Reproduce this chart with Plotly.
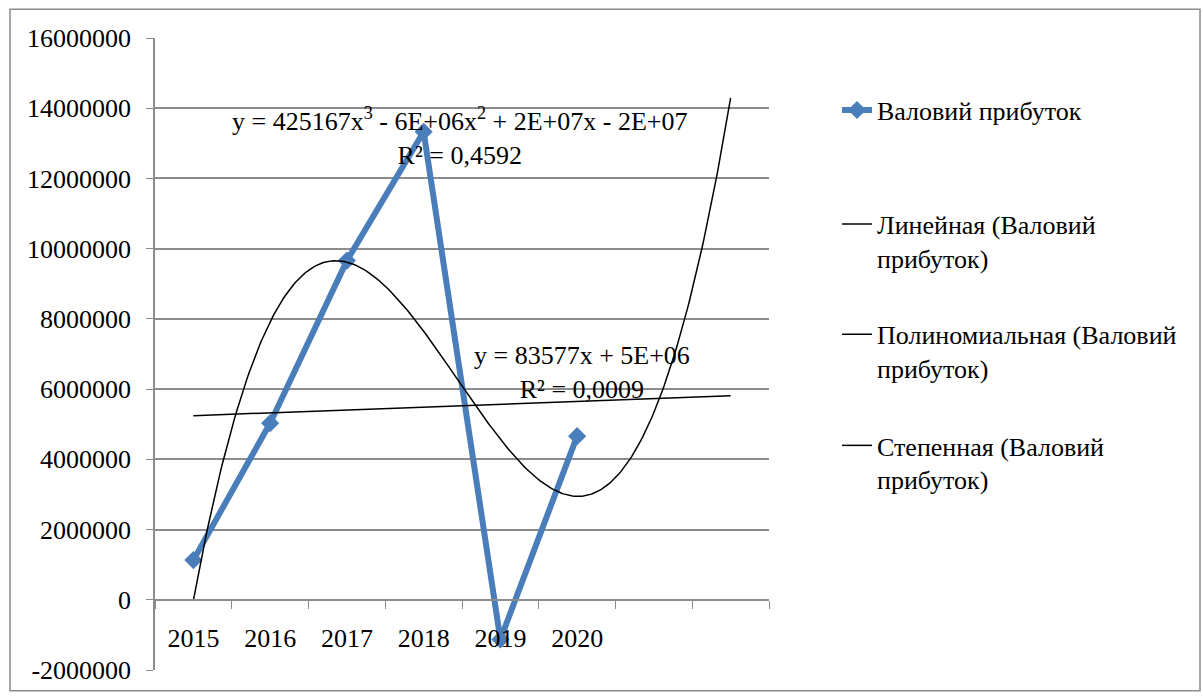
import numpy as np
import plotly.graph_objects as go

# Gross profit by year
YEARS = ["2015", "2016", "2017", "2018", "2019", "2020"]
GROSS_PROFIT = [1130000, 5030000, 9660000, 13330000, -1130000, 4660000]

SERIES_NAME = "Валовий прибуток"
TREND_NAMES = [
    "Линейная (Валовий<br>прибуток)",
    "Полиномиальная (Валовий<br>прибуток)",
    "Степенная (Валовий<br>прибуток)",
]
LINEAR_LABEL = ["y = 83577x + 5E+06", "R² = 0,0009"]
POLY_LABEL = ["y = 425167x<sup>3</sup> - 6E+06x<sup>2</sup> + 2E+07x - 2E+07", "R² = 0,4592"]

Y_TICKS = list(range(-2000000, 16000001, 2000000))
Y_LABELS = [str(v) for v in Y_TICKS]

FORECAST = 2  # trendlines extended two periods forward
FONT = "'Liberation Serif', 'Times New Roman', 'DejaVu Serif', serif"
FS = 26
BLUE = "#4A7EBB"
GRID = "#8C8C8C"

x = np.arange(1, len(YEARS) + 1)
y = np.array(GROSS_PROFIT, dtype=float)
n_slots = len(YEARS) + FORECAST

# Trendlines fitted to the series
lin = np.polyfit(x, y, 1)
cub = np.polyfit(x, y, 3)
xl = np.array([1, n_slots], dtype=float)
xc = np.linspace(1, n_slots, 300)

y_min, y_max = Y_TICKS[0], Y_TICKS[-1]
axis_pos = (0 - y_min) / (y_max - y_min)

fig = go.Figure()
fig.add_trace(go.Scatter(
    x=x, y=y, name=SERIES_NAME, mode="lines+markers",
    line=dict(color=BLUE, width=6),
    marker=dict(symbol="diamond", size=14, color=BLUE),
    legend="legend",
))
fig.add_trace(go.Scatter(
    x=xl, y=np.polyval(lin, xl), name=TREND_NAMES[0], mode="lines",
    line=dict(color="black", width=1.5), legend="legend2",
))
fig.add_trace(go.Scatter(
    x=xc, y=np.polyval(cub, xc), name=TREND_NAMES[1], mode="lines",
    line=dict(color="black", width=1.5), legend="legend3",
))
# Power trendline cannot be fitted through a negative value: legend entry only
fig.add_trace(go.Scatter(
    x=[None], y=[None], name=TREND_NAMES[2], mode="lines",
    line=dict(color="black", width=1.5), legend="legend4",
))

# Trendline equations
fig.add_annotation(x=4.47, y=13.2e6, text="<br>".join(POLY_LABEL), showarrow=False,
                   font=dict(family=FONT, size=FS, color="black"), align="center")
fig.add_annotation(x=6.06, y=6.47e6, text="<br>".join(LINEAR_LABEL), showarrow=False,
                   font=dict(family=FONT, size=FS, color="black"), align="center")

L, R, T, B = 155, 434, 38, 22
W, H = 1203, 697
pw, ph = W - L - R, H - T - B


def px_x(p):
    return (p - L) / pw


def px_y(p):
    return (H - B - p) / ph


legend_common = dict(
    font=dict(family=FONT, size=FS, color="black"),
    bgcolor="rgba(0,0,0,0)", valign="top",
    xanchor="left", yanchor="top",
)
legend_tops = [87, 202, 313, 425]
legend_left = 837

fig.update_layout(
    width=W, height=H,
    margin=dict(l=L, r=R, t=T, b=B),
    paper_bgcolor="white", plot_bgcolor="white",
    font=dict(family=FONT, size=FS, color="black"),
    legend=dict(x=px_x(legend_left), y=px_y(legend_tops[0]), **legend_common),
    legend2=dict(x=px_x(legend_left), y=px_y(legend_tops[1]), **legend_common),
    legend3=dict(x=px_x(legend_left), y=px_y(legend_tops[2]), **legend_common),
    legend4=dict(x=px_x(legend_left), y=px_y(legend_tops[3]), **legend_common),
    xaxis=dict(
        range=[0.5, n_slots + 0.5],
        tickvals=list(x), ticktext=YEARS, ticks="",
        tickfont=dict(family=FONT, size=FS, color="black"),
        ticklabelstandoff=15,
        minor=dict(
            tickvals=[i + 0.5 for i in range(n_slots + 1)],
            ticks="outside", ticklen=8, tickcolor=GRID, showgrid=False,
        ),
        showline=True, linecolor=GRID, linewidth=1.5,
        showgrid=False, zeroline=False,
        anchor="free", position=axis_pos,
    ),
    yaxis=dict(
        range=[y_min, y_max], tickvals=Y_TICKS, ticktext=Y_LABELS,
        ticks="outside", ticklen=7, tickcolor=GRID,
        showgrid=True, gridcolor=GRID, gridwidth=1.5,
        showline=True, linecolor=GRID, linewidth=1.5,
        zeroline=False, ticklabelstandoff=10,
        tickfont=dict(family=FONT, size=FS, color="black"),
    ),
    shapes=[dict(
        type="rect", xref="paper", yref="paper",
        x0=px_x(10), x1=px_x(1200), y0=px_y(696), y1=px_y(9),
        line=dict(color=GRID, width=1.5), layer="below",
    )],
    showlegend=True,
)

fig.write_html("out.html")
